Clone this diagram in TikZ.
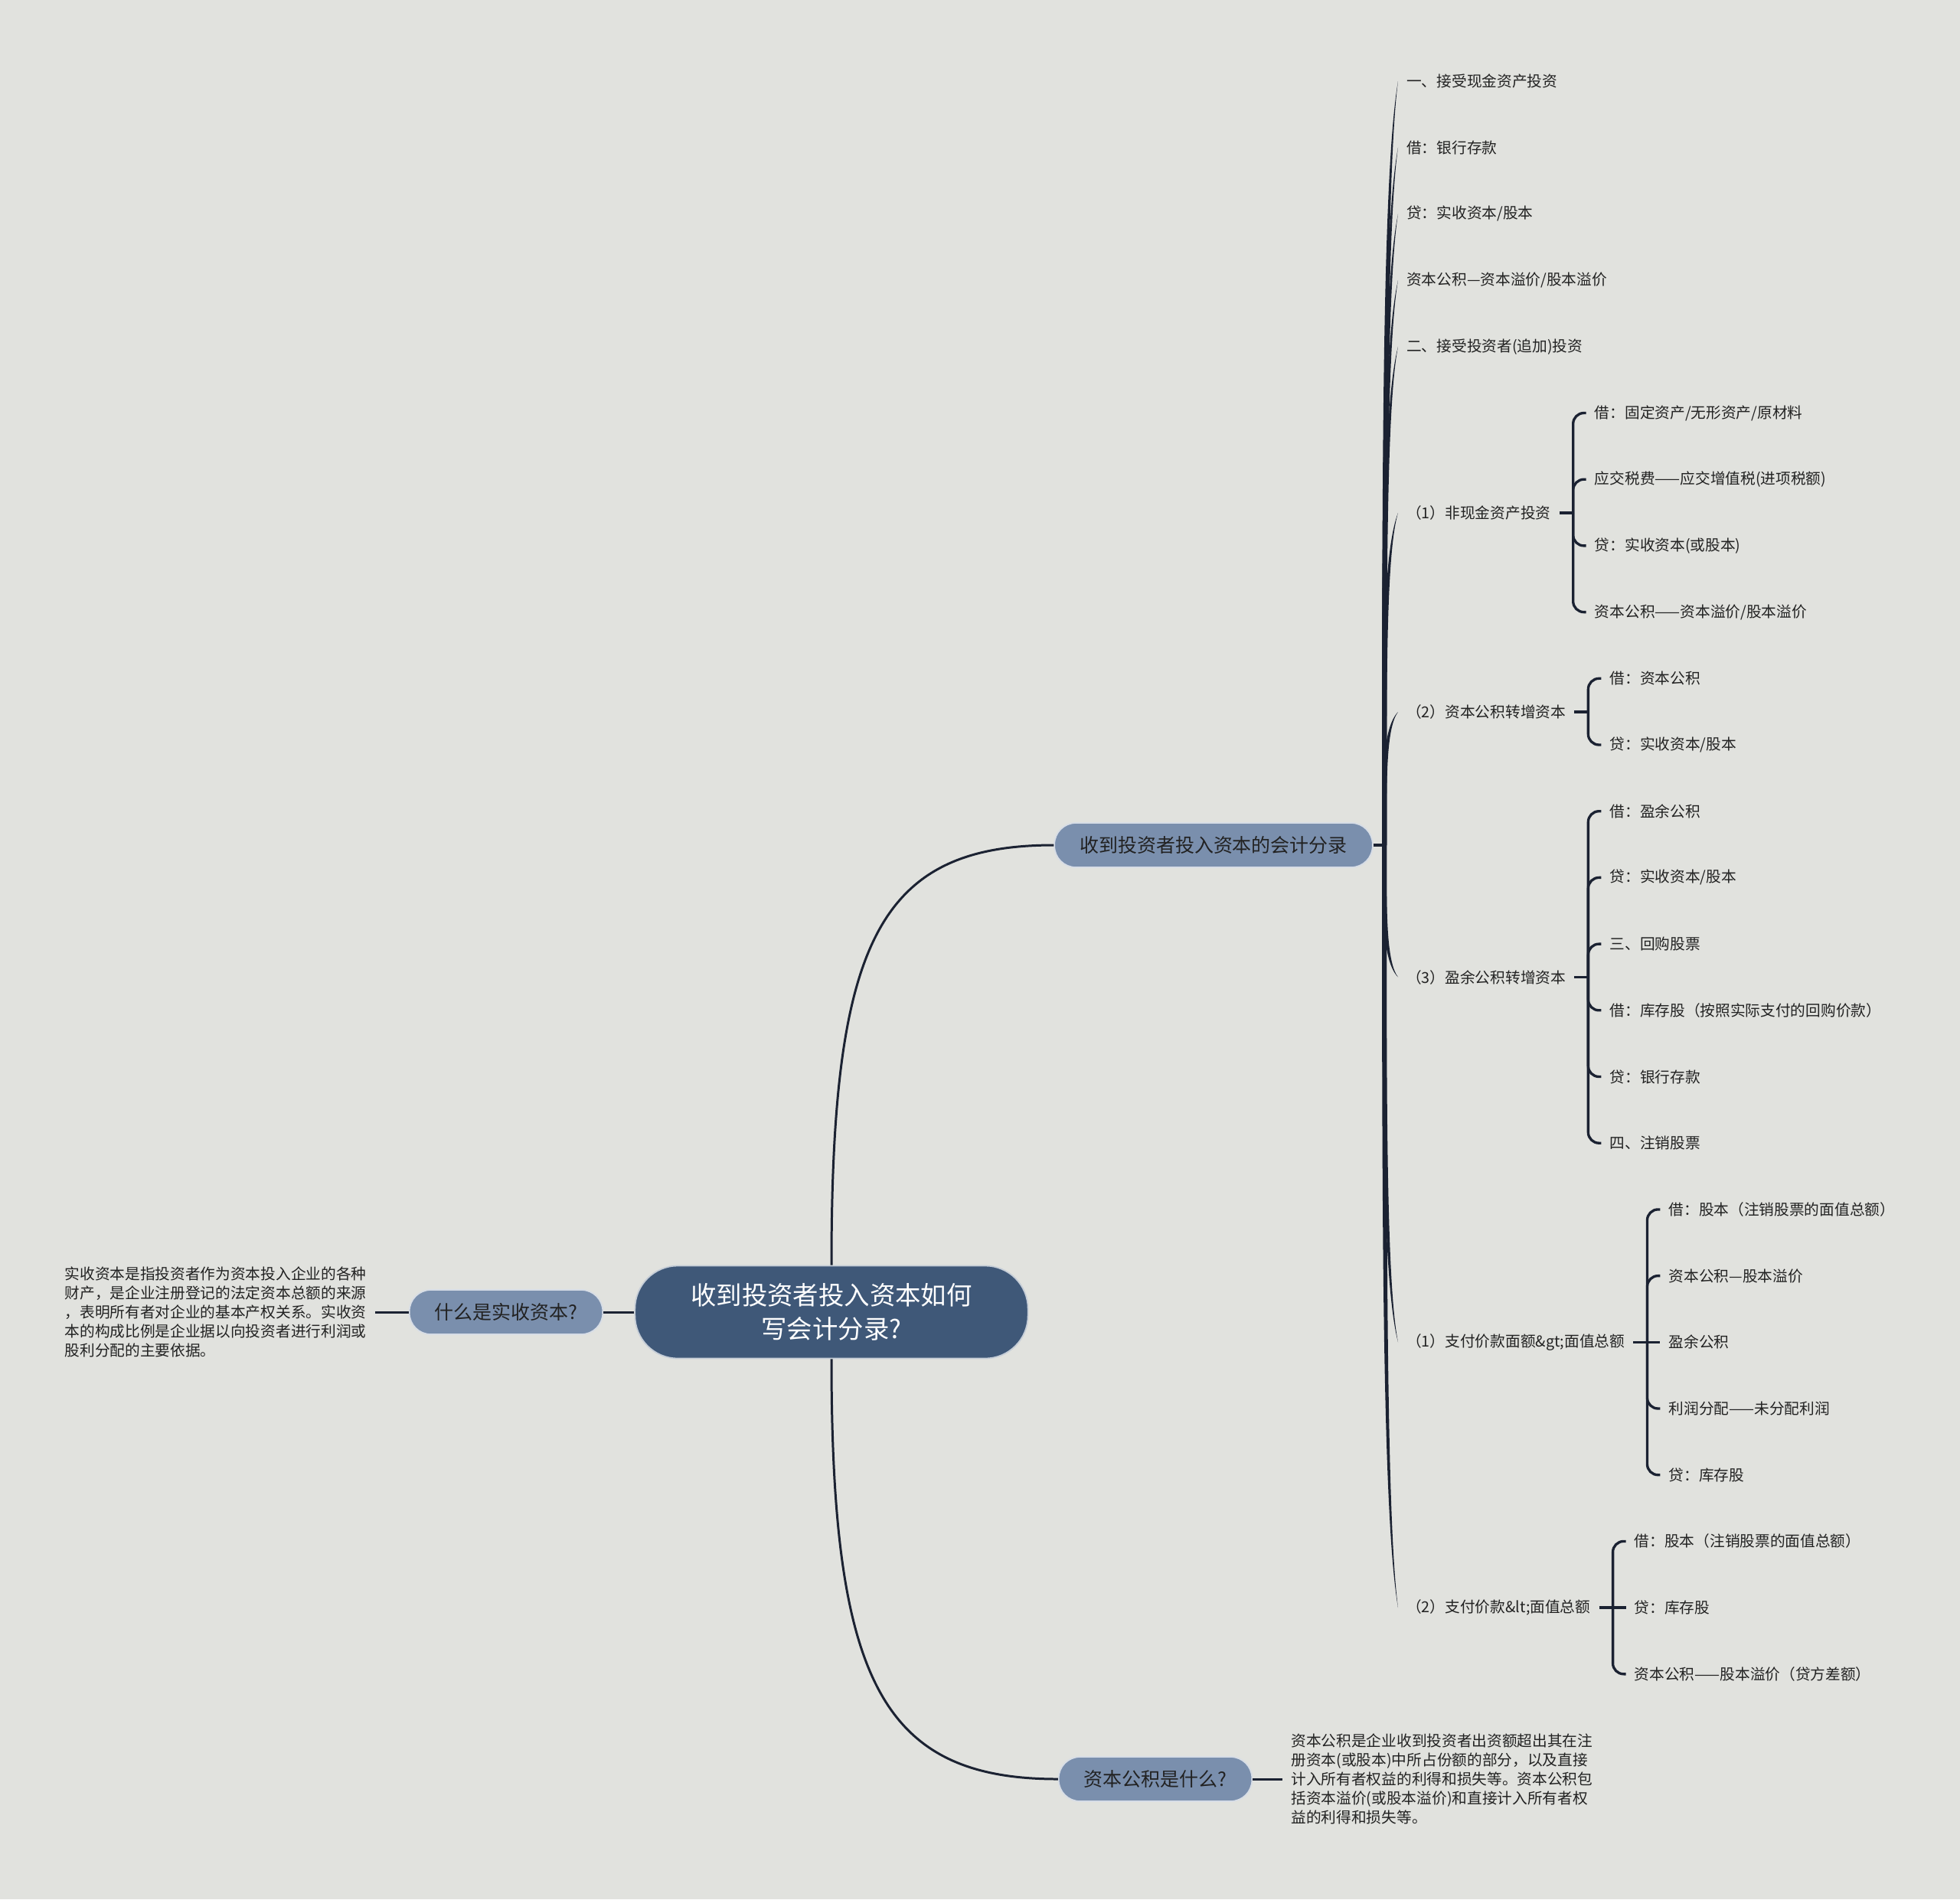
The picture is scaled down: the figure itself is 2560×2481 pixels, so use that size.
\documentclass[tikz,border=0pt]{standalone}
\usepackage{fontspec}
\setmainfont{Noto Sans CJK SC}
\usetikzlibrary{calc}
\definecolor{bg}{HTML}{E1E2DE}
\definecolor{linec}{HTML}{1B2232}
\definecolor{cfill}{HTML}{3F5878}
\definecolor{sfill}{HTML}{7A8FAD}
\definecolor{txt}{HTML}{222222}
\newcommand\mybranch[2]{%
  \fill[linec] let \p1=(#1), \p2=(#2.west) in
   ({\x1-0.85pt},\y1) .. controls ({\x1-0.85pt},{0.5*\y1+0.5*\y2}) and ({\x1-0.7pt},{0.88*\y2+0.12*\y1}) .. (\p2)
   .. controls ({\x1+0.7pt},{0.88*\y2+0.12*\y1}) and ({\x1+0.85pt},{0.5*\y1+0.5*\y2}) .. ({\x1+0.85pt},\y1) -- cycle;}
\begin{document}
\begin{tikzpicture}[x=0.01cm,y=-0.01cm,
  leaf/.style={anchor=west, text=txt, font=\fontsize{5.6pt}{6.7pt}\selectfont, inner xsep=3pt, inner ysep=2pt},
  para/.style={text=txt, font=\fontsize{5.6pt}{7.1pt}\selectfont, align=left, inner xsep=3pt, inner ysep=2pt},
  secnode/.style={fill=sfill, draw=white!70!sfill, line width=0.5pt, rounded corners=0.28cm, text=txt,
     font=\fontsize{7.1pt}{8.5pt}\selectfont, minimum height=0.58cm, inner xsep=0.33cm},
  central/.style={fill=cfill, draw=white!70!cfill, line width=0.5pt, rounded corners=0.56cm, text=white,
     font=\fontsize{9.5pt}{12.5pt}\selectfont, align=center, minimum width=5.13cm, minimum height=1.21cm},
  conn/.style={draw=linec, line width=0.85pt},
  bracket/.style={draw=linec, line width=0.95pt, rounded corners=4pt}
]
\fill[bg] (0,0) rectangle (2560,2481);
\useasboundingbox (0,0) rectangle (2560,2481);

\foreach \k in {0,...,24} { \coordinate (r\k) at (0,{106+86.7*\k}); }
\coordinate (X3) at (1826,0);

% main nodes
\node[central] (C) at (1086,1714) {收到投资者投入资本如何\\写会计分录?};
\node[secnode] (S1) at (1585,1104) {收到投资者投入资本的会计分录};
\node[secnode] (S2) at (661,1714) {什么是实收资本?};
\node[secnode] (S3) at (1509,2324) {资本公积是什么?};

\node[para, anchor=east] (DL) at ($(S2.west)+(-44,0)$) {实收资本是指投资者作为资本投入企业的各种\\财产，是企业注册登记的法定资本总额的来源\\，表明所有者对企业的基本产权关系。实收资\\本的构成比例是企业据以向投资者进行利润或\\股利分配的主要依据。};
\node[para, anchor=west] (DR) at ($(S3.east)+(39,0)$) {资本公积是企业收到投资者出资额超出其在注\\册资本(或股本)中所占份额的部分，以及直接\\计入所有者权益的利得和损失等。资本公积包\\括资本溢价(或股本溢价)和直接计入所有者权\\益的利得和损失等。};

\draw[conn] (C.north) .. controls +(0,-420) and +(-230,0) .. (S1.west);
\draw[conn] (C.south) .. controls +(0,420) and +(-230,0) .. (S3.west);
\draw[conn] (C.west) -- (S2.east);
\draw[conn] (S2.west) -- (DL.east);
\draw[conn] (S3.east) -- (DR.west);

% level 3
\coordinate (J) at (1808,1104);
\draw[linec, line width=0.95pt] (S1.east) -- (J);
\node[leaf] (A0) at (X3 |- r0) {一、接受现金资产投资};
\node[leaf] (A1) at (X3 |- r1) {借：银行存款};
\node[leaf] (A2) at (X3 |- r2) {贷：实收资本/股本};
\node[leaf] (A3) at (X3 |- r3) {资本公积—资本溢价/股本溢价};
\node[leaf] (A4) at (X3 |- r4) {二、接受投资者(追加)投资};
\node[leaf] (A5) at (1826,670) {（1）非现金资产投资};
\node[leaf] (A6) at (1826,930) {（2）资本公积转增资本};
\node[leaf] (A7) at (1826,1276.5) {（3）盈余公积转增资本};
\node[leaf] (A8) at (X3 |- r19) {（1）支付价款面额\&gt;面值总额};
\node[leaf] (A9) at (X3 |- r23) {（2）支付价款\&lt;面值总额};
\foreach \nm in {A0,A1,A2,A3,A4,A5,A6,A7,A8,A9} { \mybranch{J}{\nm} }

% level 4
\path (A5.east) ++(35,0) coordinate (g5);
\path (A6.east) ++(35,0) coordinate (g6);
\path (A7.east) ++(35,0) coordinate (g7);
\path (A8.east) ++(35,0) coordinate (g8);
\path (A9.east) ++(35,0) coordinate (g9);

\node[leaf] (B5a) at (g5 |- r5) {借：固定资产/无形资产/原材料};
\node[leaf] (B5b) at (g5 |- r6) {应交税费——应交增值税(进项税额)};
\node[leaf] (B5c) at (g5 |- r7) {贷：实收资本(或股本)};
\node[leaf] (B5d) at (g5 |- r8) {资本公积——资本溢价/股本溢价};

\node[leaf] (B6a) at (g6 |- r9) {借：资本公积};
\node[leaf] (B6b) at (g6 |- r10) {贷：实收资本/股本};

\node[leaf] (B7a) at (g7 |- r11) {借：盈余公积};
\node[leaf] (B7b) at (g7 |- r12) {贷：实收资本/股本};
\node[leaf] (B7c) at (g7 |- r13) {三、回购股票};
\node[leaf] (B7d) at (g7 |- r14) {借：库存股（按照实际支付的回购价款）};
\node[leaf] (B7e) at (g7 |- r15) {贷：银行存款};
\node[leaf] (B7f) at (g7 |- r16) {四、注销股票};

\node[leaf] (B8a) at (g8 |- r17) {借：股本（注销股票的面值总额）};
\node[leaf] (B8b) at (g8 |- r18) {资本公积—股本溢价};
\node[leaf] (B8c) at (g8 |- r19) {盈余公积};
\node[leaf] (B8d) at (g8 |- r20) {利润分配——未分配利润};
\node[leaf] (B8e) at (g8 |- r21) {贷：库存股};

\node[leaf] (B9a) at (g9 |- r22) {借：股本（注销股票的面值总额）};
\node[leaf] (B9b) at (g9 |- r23) {贷：库存股};
\node[leaf] (B9c) at (g9 |- r24) {资本公积——股本溢价（贷方差额）};

\draw[bracket] (A5.east) -- ++(18,0) coordinate (h5);
\draw[bracket] (A6.east) -- ++(18,0) coordinate (h6);
\draw[bracket] (A7.east) -- ++(18,0) coordinate (h7);
\draw[bracket] (A8.east) -- ++(18,0) coordinate (h8);
\draw[bracket] (A9.east) -- ++(18,0) coordinate (h9);
\foreach \nm in {B5a,B5b,B5c,B5d} { \draw[bracket] (h5) |- (\nm.west); }
\foreach \nm in {B6a,B6b} { \draw[bracket] (h6) |- (\nm.west); }
\foreach \nm in {B7a,B7b,B7c,B7d,B7e,B7f} { \draw[bracket] (h7) |- (\nm.west); }
\foreach \nm in {B8a,B8b,B8d,B8e} { \draw[bracket] (h8) |- (\nm.west); }
\draw[bracket] (h8) -- (B8c.west);
\foreach \nm in {B9a,B9c} { \draw[bracket] (h9) |- (\nm.west); }
\draw[bracket] (h9) -- (B9b.west);
\end{tikzpicture}
\end{document}
